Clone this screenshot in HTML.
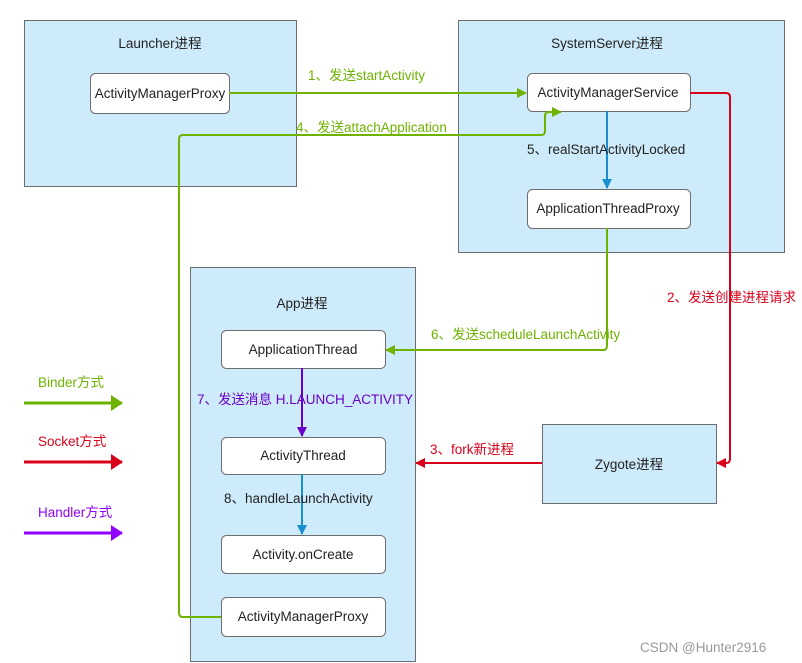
<!DOCTYPE html>
<html><head><meta charset="utf-8"><style>html,body{margin:0;padding:0;background:#fff}svg{display:block}text{font-family:"Liberation Sans","Noto Sans CJK SC",sans-serif;font-size:13.5px}</style></head><body>
<svg width="802" height="663" viewBox="0 0 802 663" xmlns="http://www.w3.org/2000/svg">
<defs>
<marker id="g" markerWidth="10" markerHeight="10" refX="9" refY="5" orient="auto" markerUnits="userSpaceOnUse" viewBox="0 0 10 10"><path d="M0,0 L10,5 L0,10 Z" fill="#6db300"/></marker>
<marker id="r" markerWidth="10" markerHeight="10" refX="9" refY="5" orient="auto" markerUnits="userSpaceOnUse" viewBox="0 0 10 10"><path d="M0,0 L10,5 L0,10 Z" fill="#d9001b"/></marker>
<marker id="b" markerWidth="10" markerHeight="10" refX="9" refY="5" orient="auto" markerUnits="userSpaceOnUse" viewBox="0 0 10 10"><path d="M0,0 L10,5 L0,10 Z" fill="#1a8fd0"/></marker>
<marker id="p" markerWidth="10" markerHeight="10" refX="9" refY="5" orient="auto" markerUnits="userSpaceOnUse" viewBox="0 0 10 10"><path d="M0,0 L10,5 L0,10 Z" fill="#6a00c8"/></marker>
<marker id="G" markerWidth="12" markerHeight="16" refX="11" refY="8" orient="auto" markerUnits="userSpaceOnUse" viewBox="0 0 12 16"><path d="M0,0 L12,8 L0,16 Z" fill="#6db300"/></marker>
<marker id="R" markerWidth="12" markerHeight="16" refX="11" refY="8" orient="auto" markerUnits="userSpaceOnUse" viewBox="0 0 12 16"><path d="M0,0 L12,8 L0,16 Z" fill="#d9001b"/></marker>
<marker id="P" markerWidth="12" markerHeight="16" refX="11" refY="8" orient="auto" markerUnits="userSpaceOnUse" viewBox="0 0 12 16"><path d="M0,0 L12,8 L0,16 Z" fill="#9000ff"/></marker>
</defs>
<g fill="#cdebfa" stroke="#6d6d6d" stroke-width="1">
<rect x="24.5" y="20.5" width="272" height="166"/>
<rect x="458.5" y="20.5" width="326" height="232"/>
<rect x="190.5" y="267.5" width="225" height="394"/>
<rect x="542.5" y="424.5" width="174" height="79"/>
</g>
<g fill="#fff" stroke="#6d6d6d" stroke-width="1">
<rect x="90.5" y="73.5" width="139" height="40" rx="5"/>
<rect x="527.5" y="73.5" width="163" height="38" rx="5"/>
<rect x="527.5" y="189.5" width="163" height="39" rx="5"/>
<rect x="221.5" y="330.5" width="164" height="38" rx="5"/>
<rect x="221.5" y="437.5" width="164" height="37" rx="5"/>
<rect x="221.5" y="535.5" width="164" height="38" rx="5"/>
<rect x="221.5" y="597.5" width="164" height="39" rx="5"/>
</g>
<g fill="#222" text-anchor="middle">
<text x="160" y="48">Launcher进程</text>
<text x="607" y="48">SystemServer进程</text>
<text x="302" y="308">App进程</text>
<text x="629" y="469">Zygote进程</text>
<text x="160" y="98">ActivityManagerProxy</text>
<text x="608" y="97">ActivityManagerService</text>
<text x="608" y="213">ApplicationThreadProxy</text>
<text x="303" y="354">ApplicationThread</text>
<text x="303" y="460">ActivityThread</text>
<text x="303" y="559">Activity.onCreate</text>
<text x="303" y="621">ActivityManagerProxy</text>
</g>
<g fill="none" stroke-width="2">
<path d="M229,93 H526" stroke="#6db300" marker-end="url(#g)"/>
<path d="M221,617 H183 Q179,617 179,613 V139 Q179,135 183,135 H541 Q545,135 545,131 V116 Q545,112 549,112 H561" stroke="#6db300" marker-end="url(#g)"/>
<path d="M607,228 V346 Q607,350 603,350 H386" stroke="#6db300" marker-end="url(#g)"/>
<path d="M690,93 H726 Q730,93 730,97 V459 Q730,463 726,463 H717" stroke="#d9001b" marker-end="url(#r)"/>
<path d="M542,463 H416" stroke="#d9001b" marker-end="url(#r)"/>
<path d="M607,111 V188" stroke="#1a8fd0" marker-end="url(#b)"/>
<path d="M302,474 V534" stroke="#1a8fd0" marker-end="url(#b)"/>
<path d="M302,368 V436" stroke="#6a00c8" marker-end="url(#p)"/>
<path d="M24,403 H122" stroke="#6db300" stroke-width="3" marker-end="url(#G)"/>
<path d="M24,462 H122" stroke="#d9001b" stroke-width="3" marker-end="url(#R)"/>
<path d="M24,533 H122" stroke="#9000ff" stroke-width="3" marker-end="url(#P)"/>
</g>
<g font-size="14">
<text x="308" y="80" fill="#6db300" font-size="14">1、发送startActivity</text>
<text x="296" y="132" fill="#6db300" font-size="14">4、发送attachApplication</text>
<text x="527" y="154" fill="#222" font-size="14">5、realStartActivityLocked</text>
<text x="667" y="302" fill="#d9001b" font-size="14">2、发送创建进程请求</text>
<text x="431" y="339" fill="#6db300" font-size="14">6、发送scheduleLaunchActivity</text>
<text x="197" y="404" fill="#6a00c8" font-size="14">7、发送消息 H.LAUNCH_ACTIVITY</text>
<text x="430" y="454" fill="#d9001b" font-size="14">3、fork新进程</text>
<text x="224" y="503" fill="#222" font-size="14">8、handleLaunchActivity</text>
<text x="38" y="387" fill="#6db300" font-size="14">Binder方式</text>
<text x="38" y="446" fill="#d9001b" font-size="14">Socket方式</text>
<text x="38" y="517" fill="#9000ff" font-size="14">Handler方式</text>
<text x="640" y="652" fill="#999" font-size="15">CSDN @Hunter2916</text>
</g>
</svg>
</body></html>
